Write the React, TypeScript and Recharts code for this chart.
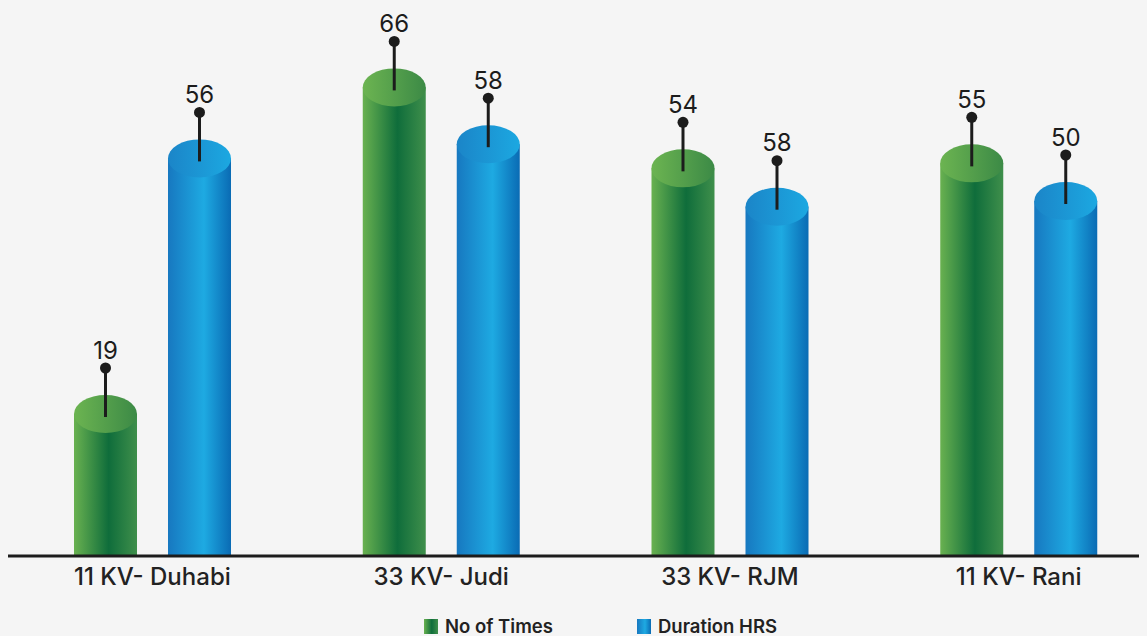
import { Bar, BarChart, LabelList, XAxis, YAxis } from "recharts";

const categories = ["11 KV- Duhabi", "33 KV- Judi", "33 KV- RJM", "11 KV- Rani"];
// bar heights as drawn in the picture
const noOfTimes = [20, 66, 54.6, 55.3];
const durationHrs = [56, 58, 49.2, 50];
// the numbers printed above the bars
const noOfTimesLabels = ["19", "66", "54", "55"];
const durationLabels = ["56", "58", "58", "50"];

const data = categories.map((name, i) => ({
  name,
  times: noOfTimes[i],
  duration: durationHrs[i],
}));

const FONT = "Inter, 'Open Sans', sans-serif";
const INK = "#1c1c1c";
const RY = 19;

function Cylinder(props: any) {
  const { x, y, width, height, kind } = props;
  if (height == null || height <= 0) return null;
  const body = kind === "green" ? "url(#greenBody)" : "url(#blueBody)";
  const top = kind === "green" ? "url(#greenTop)" : "url(#blueTop)";
  return (
    <g>
      <rect x={x} y={y} width={width} height={height} fill={body} />
      <ellipse cx={x + width / 2} cy={y} rx={width / 2} ry={RY} fill={top} />
    </g>
  );
}

function Pin(labels: string[]) {
  return function PinLabel(props: any) {
    const { x, y, width, index } = props;
    const cx = Number(x) + Number(width) / 2;
    const top = Number(y);
    return (
      <g>
        <line x1={cx} x2={cx} y1={top - 46} y2={top + 3} stroke={INK} strokeWidth={3} />
        <circle cx={cx} cy={top - 46} r={5.5} fill={INK} />
        <text
          x={cx}
          y={top - 64}
          textAnchor="middle"
          dominantBaseline="central"
          fontFamily={FONT}
          fontSize={24}
          fill={INK}
        >
          {labels[index]}
        </text>
      </g>
    );
  };
}

function CategoryTick({ x, y, payload }: any) {
  return (
    <text
      x={x}
      y={y + 20}
      textAnchor="middle"
      dominantBaseline="central"
      fontFamily={FONT}
      fontSize={24}
      fontWeight={500}
      fill="#222"
    >
      {payload.value}
    </text>
  );
}

function LegendItem({ left, grad, label }: { left: number; grad: string; label: string }) {
  return (
    <div
      style={{
        position: "absolute",
        left,
        top: 0,
        display: "flex",
        alignItems: "center",
        gap: 7,
      }}
    >
      <span style={{ width: 14, height: 15, background: grad, display: "inline-block" }} />
      <span style={{ fontFamily: FONT, fontSize: 18.5, fontWeight: 600, color: "#222" }}>
        {label}
      </span>
    </div>
  );
}

export default function App() {
  return (
    <div style={{ position: "relative", width: 1139, height: 628, overflow: "hidden" }}>
      <style>{`body{background:#f5f5f5}`}</style>
      <BarChart
        width={1155}
        height={628}
        data={data}
        margin={{ top: 51, right: 0, left: 0, bottom: 50 }}
        barSize={63}
        barGap={31}
      >
        <defs>
          <linearGradient id="greenBody" x1="0" y1="0" x2="1" y2="0">
            <stop offset="0%" stopColor="#69b150" />
            <stop offset="55%" stopColor="#0f6d3b" />
            <stop offset="100%" stopColor="#3f8f4b" />
          </linearGradient>
          <linearGradient id="greenTop" x1="0" y1="0" x2="1" y2="0">
            <stop offset="0%" stopColor="#6cb451" />
            <stop offset="100%" stopColor="#3c8a46" />
          </linearGradient>
          <linearGradient id="blueBody" x1="0" y1="0" x2="1" y2="0">
            <stop offset="0%" stopColor="#1778c0" />
            <stop offset="57%" stopColor="#1eaae2" />
            <stop offset="100%" stopColor="#0a6bb4" />
          </linearGradient>
          <linearGradient id="blueTop" x1="0" y1="0" x2="1" y2="0">
            <stop offset="0%" stopColor="#1b85c8" />
            <stop offset="100%" stopColor="#1ca8e1" />
          </linearGradient>
        </defs>
        <XAxis
          dataKey="name"
          height={30}
          tickLine={false}
          tickSize={0}
          tickMargin={0}
          axisLine={{ stroke: INK, strokeWidth: 3 }}
          tick={<CategoryTick />}
          interval={0}
        />
        <YAxis hide domain={[0, 70]} />
        <Bar
          dataKey="times"
          isAnimationActive={false}
          shape={(p: any) => <Cylinder {...p} kind="green" />}
        >
          <LabelList dataKey="times" content={Pin(noOfTimesLabels)} />
        </Bar>
        <Bar
          dataKey="duration"
          isAnimationActive={false}
          shape={(p: any) => <Cylinder {...p} kind="blue" />}
        >
          <LabelList dataKey="duration" content={Pin(durationLabels)} />
        </Bar>
      </BarChart>
      <div style={{ position: "absolute", top: 607, left: 0, width: "100%", height: 21 }}>
        <LegendItem
          left={416}
          grad="linear-gradient(90deg,#69b150,#0f6d3b 55%,#3f8f4b)"
          label="No of Times"
        />
        <LegendItem
          left={629}
          grad="linear-gradient(90deg,#1778c0,#1eaae2 57%,#0a6bb4)"
          label="Duration HRS"
        />
      </div>
    </div>
  );
}
